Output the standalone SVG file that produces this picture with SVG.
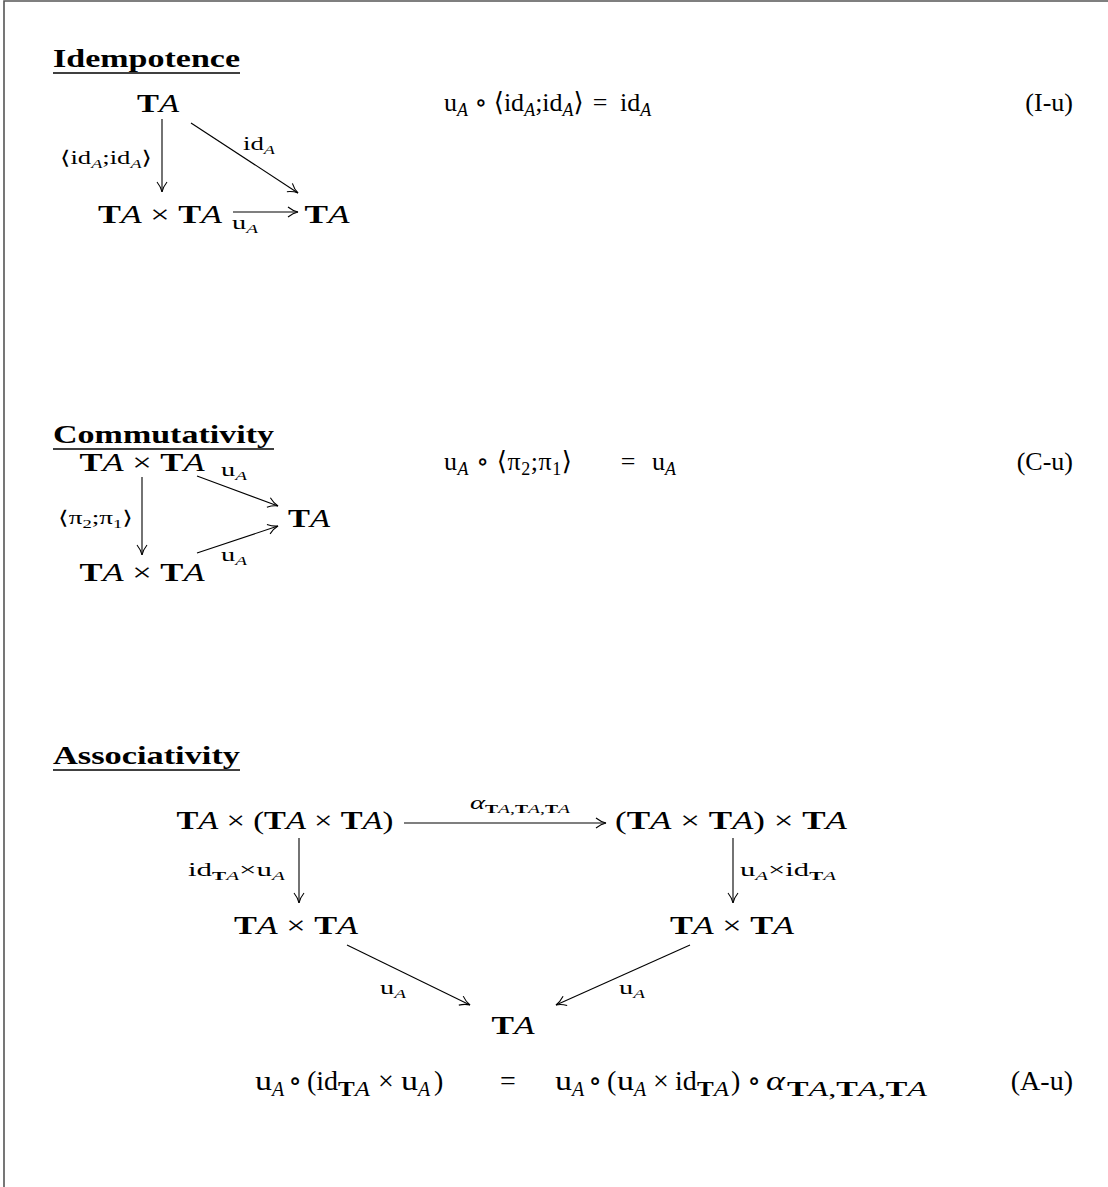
<svg xmlns="http://www.w3.org/2000/svg" width="1108" height="1187" viewBox="0 0 1108 1187">
<style>
.m{font-family:"Liberation Serif","DejaVu Serif","DejaVu Sans",serif;font-size:26px;fill:#000}
.e{font-family:"Liberation Serif","DejaVu Serif","DejaVu Sans",serif;font-size:28px;fill:#000}
.es{font-family:"Liberation Serif","DejaVu Serif","DejaVu Sans",serif;font-size:20px;fill:#000}
.s{font-family:"Liberation Serif","DejaVu Serif","DejaVu Sans",serif;font-size:19px;fill:#000}
.h{font-family:"Liberation Serif","DejaVu Serif",serif;font-weight:bold;font-size:26px;fill:#000}
.b{font-weight:bold}
.i{font-style:italic}
.ul{stroke:#000;stroke-width:1.3}
.arr{stroke:#000;stroke-width:1.1;fill:none;marker-end:url(#ah)}
</style>
<defs>
<marker id="ah" markerUnits="userSpaceOnUse" markerWidth="14" markerHeight="12" refX="11" refY="6" orient="auto">
<path d="M1,1 Q6,5 11,6 Q6,7 1,11" fill="none" stroke="#000" stroke-width="1.1"/>
</marker>
</defs>
<rect width="1108" height="1187" fill="#fff"/>
<path d="M4,1187 V1 H1108" fill="none" stroke="#555" stroke-width="1.6"/>

<!-- Idempotence -->
<g id="h-idem"><text class="h" x="53" y="67" textLength="187" lengthAdjust="spacingAndGlyphs">Idempotence</text><line class="ul" x1="53" y1="73" x2="240" y2="73"/></g>
<g id="i-top"><text class="m" x="158" y="112" text-anchor="middle" textLength="42" lengthAdjust="spacingAndGlyphs"><tspan class="b">T</tspan><tspan class="i">A</tspan></text></g>
<g id="i-prod"><text class="m" x="160" y="223" text-anchor="middle" textLength="124" lengthAdjust="spacingAndGlyphs"><tspan class="b">T</tspan><tspan class="i">A</tspan> × <tspan class="b">T</tspan><tspan class="i">A</tspan></text></g>
<g id="i-right"><text class="m" x="327" y="223" text-anchor="middle" textLength="45" lengthAdjust="spacingAndGlyphs"><tspan class="b">T</tspan><tspan class="i">A</tspan></text></g>
<g id="i-conn">
<line class="arr" x1="162" y1="119" x2="162" y2="192"/>
<line class="arr" x1="191" y1="123" x2="298" y2="193"/>
<line class="arr" x1="233" y1="212" x2="298" y2="212"/>
<text class="s" x="60" y="164" textLength="92" lengthAdjust="spacingAndGlyphs">⟨id<tspan font-size="13" dy="4" class="i">A</tspan><tspan dy="-4">;id</tspan><tspan font-size="13" dy="4" class="i">A</tspan><tspan dy="-4">⟩</tspan></text>
<text class="s" x="243" y="150" textLength="32" lengthAdjust="spacingAndGlyphs">id<tspan font-size="13" dy="4" class="i">A</tspan></text>
<text class="s" x="232" y="229" textLength="26" lengthAdjust="spacingAndGlyphs">u<tspan font-size="13" dy="4" class="i">A</tspan></text>
</g>
<g id="eq-i">
<text class="m" x="444" y="111">u<tspan font-size="18" dy="5" class="i">A</tspan><tspan dy="-5"> ∘ ⟨id</tspan><tspan font-size="18" dy="5" class="i">A</tspan><tspan dy="-5">;id</tspan><tspan font-size="18" dy="5" class="i">A</tspan><tspan dy="-5">⟩</tspan></text>
<text class="m" x="600" y="111" text-anchor="middle">=</text>
<text class="m" x="620" y="111">id<tspan font-size="18" dy="5" class="i">A</tspan></text>
<text class="m" x="1073" y="111" text-anchor="end">(I-u)</text>
</g>

<!-- Commutativity -->
<g id="h-comm"><text class="h" x="53" y="443" textLength="221" lengthAdjust="spacingAndGlyphs">Commutativity</text><line class="ul" x1="53" y1="449" x2="274" y2="449"/></g>
<g id="c-top"><text class="m" x="142" y="471" text-anchor="middle" textLength="125" lengthAdjust="spacingAndGlyphs"><tspan class="b">T</tspan><tspan class="i">A</tspan> × <tspan class="b">T</tspan><tspan class="i">A</tspan></text></g>
<g id="c-right"><text class="m" x="309" y="527" text-anchor="middle" textLength="42" lengthAdjust="spacingAndGlyphs"><tspan class="b">T</tspan><tspan class="i">A</tspan></text></g>
<g id="c-bot"><text class="m" x="142" y="581" text-anchor="middle" textLength="125" lengthAdjust="spacingAndGlyphs"><tspan class="b">T</tspan><tspan class="i">A</tspan> × <tspan class="b">T</tspan><tspan class="i">A</tspan></text></g>
<g id="c-conn">
<line class="arr" x1="142" y1="477" x2="142" y2="555"/>
<line class="arr" x1="197" y1="476" x2="278" y2="506"/>
<line class="arr" x1="197" y1="553" x2="278" y2="526"/>
<text class="s" x="58" y="524" textLength="75" lengthAdjust="spacingAndGlyphs">⟨π<tspan font-size="13" dy="4">2</tspan><tspan dy="-4">;π</tspan><tspan font-size="13" dy="4">1</tspan><tspan dy="-4">⟩</tspan></text>
<text class="s" x="221" y="476" textLength="26" lengthAdjust="spacingAndGlyphs">u<tspan font-size="13" dy="4" class="i">A</tspan></text>
<text class="s" x="221" y="561" textLength="26" lengthAdjust="spacingAndGlyphs">u<tspan font-size="13" dy="4" class="i">A</tspan></text>
</g>
<g id="eq-c">
<text class="m" x="444" y="470" textLength="128" lengthAdjust="spacing">u<tspan font-size="18" dy="5" class="i">A</tspan><tspan dy="-5"> ∘ ⟨π</tspan><tspan font-size="18" dy="5">2</tspan><tspan dy="-5">;π</tspan><tspan font-size="18" dy="5">1</tspan><tspan dy="-5">⟩</tspan></text>
<text class="m" x="628" y="470" text-anchor="middle">=</text>
<text class="m" x="652" y="470">u<tspan font-size="18" dy="5" class="i">A</tspan></text>
<text class="m" x="1073" y="470" text-anchor="end">(C-u)</text>
</g>

<!-- Associativity -->
<g id="h-assoc"><text class="h" x="53" y="764" textLength="187" lengthAdjust="spacingAndGlyphs">Associativity</text><line class="ul" x1="53" y1="770" x2="240" y2="770"/></g>
<g id="a-tl"><text class="m" x="285" y="829" text-anchor="middle" textLength="217" lengthAdjust="spacingAndGlyphs"><tspan class="b">T</tspan><tspan class="i">A</tspan> × (<tspan class="b">T</tspan><tspan class="i">A</tspan> × <tspan class="b">T</tspan><tspan class="i">A</tspan>)</text></g>
<g id="a-tr"><text class="m" x="731" y="829" text-anchor="middle" textLength="232" lengthAdjust="spacingAndGlyphs">(<tspan class="b">T</tspan><tspan class="i">A</tspan> × <tspan class="b">T</tspan><tspan class="i">A</tspan>) × <tspan class="b">T</tspan><tspan class="i">A</tspan></text></g>
<g id="a-ml"><text class="m" x="296" y="934" text-anchor="middle" textLength="124" lengthAdjust="spacingAndGlyphs"><tspan class="b">T</tspan><tspan class="i">A</tspan> × <tspan class="b">T</tspan><tspan class="i">A</tspan></text></g>
<g id="a-mr"><text class="m" x="732" y="934" text-anchor="middle" textLength="124" lengthAdjust="spacingAndGlyphs"><tspan class="b">T</tspan><tspan class="i">A</tspan> × <tspan class="b">T</tspan><tspan class="i">A</tspan></text></g>
<g id="a-bot"><text class="m" x="513" y="1034" text-anchor="middle" textLength="43" lengthAdjust="spacingAndGlyphs"><tspan class="b">T</tspan><tspan class="i">A</tspan></text></g>
<g id="a-conn">
<line class="arr" x1="404" y1="823" x2="606" y2="823"/>
<line class="arr" x1="299" y1="838" x2="299" y2="903"/>
<line class="arr" x1="733" y1="838" x2="733" y2="903"/>
<line class="arr" x1="347" y1="945" x2="470" y2="1005"/>
<line class="arr" x1="690" y1="945" x2="556" y2="1005"/>
<text class="s" x="470" y="809" textLength="100" lengthAdjust="spacingAndGlyphs"><tspan class="i">α</tspan><tspan font-size="13" dy="4"><tspan class="b">T</tspan><tspan class="i">A</tspan>,<tspan class="b">T</tspan><tspan class="i">A</tspan>,<tspan class="b">T</tspan><tspan class="i">A</tspan></tspan></text>
<text class="s" x="188" y="876" textLength="97" lengthAdjust="spacingAndGlyphs">id<tspan font-size="13" dy="4"><tspan class="b">T</tspan><tspan class="i">A</tspan></tspan><tspan dy="-4">×u</tspan><tspan font-size="13" dy="4" class="i">A</tspan></text>
<text class="s" x="740" y="876" textLength="96" lengthAdjust="spacingAndGlyphs">u<tspan font-size="13" dy="4" class="i">A</tspan><tspan dy="-4">×id</tspan><tspan font-size="13" dy="4"><tspan class="b">T</tspan><tspan class="i">A</tspan></tspan></text>
<text class="s" x="380" y="994" textLength="26" lengthAdjust="spacingAndGlyphs">u<tspan font-size="13" dy="4" class="i">A</tspan></text>
<text class="s" x="619" y="994" textLength="26" lengthAdjust="spacingAndGlyphs">u<tspan font-size="13" dy="4" class="i">A</tspan></text>
</g>
<g id="eq-a">
<text class="e" x="255" y="1090" textLength="17" lengthAdjust="spacingAndGlyphs">u</text>
<text class="es i" x="272" y="1096">A</text>
<text class="e" x="295" y="1090" text-anchor="middle">∘</text>
<text class="e" x="307" y="1090">(id</text>
<text class="es" x="338" y="1096" textLength="32" lengthAdjust="spacingAndGlyphs"><tspan class="b">T</tspan><tspan class="i">A</tspan></text>
<text class="e" x="386" y="1090" text-anchor="middle">×</text>
<text class="e" x="401" y="1090" textLength="17" lengthAdjust="spacingAndGlyphs">u</text>
<text class="es i" x="418" y="1096">A</text>
<text class="e" x="434" y="1090">)</text>
<text class="e" x="508" y="1090" text-anchor="middle">=</text>
<text class="e" x="555" y="1090" textLength="17" lengthAdjust="spacingAndGlyphs">u</text>
<text class="es i" x="572" y="1096">A</text>
<text class="e" x="595" y="1090" text-anchor="middle">∘</text>
<text class="e" x="607" y="1090">(</text>
<text class="e" x="617" y="1090" textLength="17" lengthAdjust="spacingAndGlyphs">u</text>
<text class="es i" x="634" y="1096">A</text>
<text class="e" x="661" y="1090" text-anchor="middle">×</text>
<text class="e" x="675" y="1090">id</text>
<text class="es" x="697" y="1096" textLength="32" lengthAdjust="spacingAndGlyphs"><tspan class="b">T</tspan><tspan class="i">A</tspan></text>
<text class="e" x="731" y="1090">)</text>
<text class="e" x="754" y="1090" text-anchor="middle">∘</text>
<text class="e i" x="766" y="1090" textLength="19" lengthAdjust="spacingAndGlyphs">α</text>
<text class="es" x="787" y="1096" textLength="140" lengthAdjust="spacingAndGlyphs"><tspan class="b">T</tspan><tspan class="i">A</tspan>,<tspan class="b">T</tspan><tspan class="i">A</tspan>,<tspan class="b">T</tspan><tspan class="i">A</tspan></text>
<text class="e" x="1073" y="1090" text-anchor="end">(A-u)</text>
</g>
</svg>
